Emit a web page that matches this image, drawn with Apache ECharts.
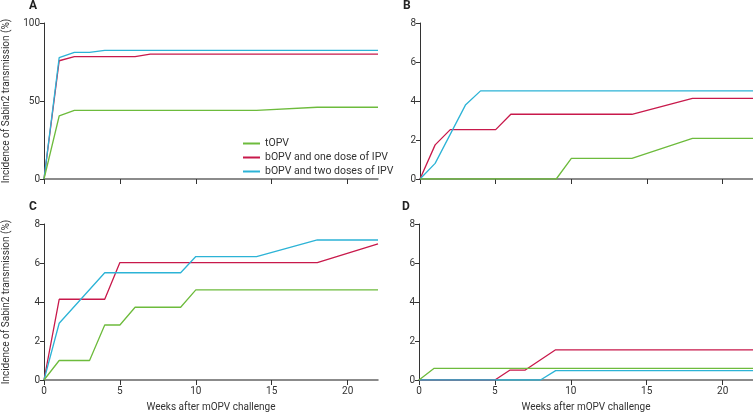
<!DOCTYPE html>
<html>
<head>
<meta charset="utf-8">
<script src="https://cdn.jsdelivr.net/npm/echarts@6/dist/echarts.min.js"></script>
<style>html,body{margin:0;padding:0;background:#fff}#c{width:753px;height:414px}</style>
</head>
<body>
<div id="c"></div>
<script>
// Data: [week, incidence %]
const seriesNames = ['tOPV', 'bOPV and one dose of IPV', 'bOPV and two doses of IPV'];
const panelLabels = ['A', 'B', 'C', 'D'];
const xTicks = [0, 5, 10, 15, 20];
const yTicksA = [0, 50, 100];
const yTicksOther = [0, 2, 4, 6, 8];

const A_tOPV = [[0,0],[1,40.4],[2,44],[14,44],[18,46],[22,46]];
const A_one  = [[0,0],[1,75.8],[2,78.4],[6,78.4],[7,80],[22,80]];
const A_two  = [[0,0],[1,77.8],[2,81.2],[3,81.2],[4,82.5],[22,82.5]];

const B_tOPV = [[0,0],[9,0],[10,1.06],[14,1.06],[18,2.08],[22,2.08]];
const B_one  = [[0,0],[1,1.75],[2,2.53],[5,2.53],[6,3.32],[14,3.32],[18,4.13],[22,4.13]];
const B_two  = [[0,0],[1,0.8],[3,3.79],[4,4.52],[22,4.52]];

const C_tOPV = [[0,0],[1,1.0],[3,1.0],[4,2.82],[5,2.82],[6,3.73],[9,3.73],[10,4.62],[22,4.62]];
const C_one  = [[0,0],[1,4.14],[4,4.14],[5,6.02],[18,6.02],[22,6.98]];
const C_two  = [[0,0],[1,2.91],[4,5.5],[9,5.5],[10,6.33],[14,6.33],[18,7.18],[22,7.18]];

const D_tOPV = [[0,0],[1,0.6],[22,0.6]];
const D_one  = [[0,0],[5,0],[6,0.51],[7,0.51],[9,1.55],[22,1.55]];
const D_two  = [[0,0],[8,0],[9,0.48],[22,0.48]];

const panels = [
  [A_tOPV, A_one, A_two],
  [B_tOPV, B_one, B_two],
  [C_tOPV, C_one, C_two],
  [D_tOPV, D_one, D_two]
];
const colors = ['#6dbb3c', '#c8194b', '#2cb3d6'];
const font = 'Roboto, "Liberation Sans", sans-serif';

const grids = [
  {left: 44, top: 23, width: 334, height: 156},
  {left: 420, top: 23, width: 334, height: 156},
  {left: 44, top: 224, width: 334, height: 156},
  {left: 419, top: 224, width: 334, height: 156}
];

const xAxes = grids.map((g, i) => ({
  gridIndex: i, type: 'value', min: 0, max: 22,
  name: i >= 2 ? 'Weeks after mOPV challenge' : '',
  nameLocation: 'middle', nameGap: 22,
  nameTextStyle: {fontFamily: font, fontSize: 10, color: '#333'},
  axisLine: {show: true, lineStyle: {color: '#666', width: 1.5}},
  axisTick: {show: true, length: 5, customValues: xTicks, lineStyle: {color: '#333', width: 1}},
  axisLabel: {show: i >= 2, customValues: xTicks, fontFamily: font, fontSize: 10, color: '#333', margin: 6},
  splitLine: {show: false}
}));

const yAxes = grids.map((g, i) => {
  const ticks = i === 0 ? yTicksA : yTicksOther;
  return {
    gridIndex: i, type: 'value', min: 0, max: ticks[ticks.length - 1],
    interval: ticks[1] - ticks[0],
    name: (i === 0 || i === 2) ? 'Incidence of Sabin2 transmission (%)' : '',
    nameLocation: 'middle', nameGap: 33, nameRotate: 90,
    nameTextStyle: {fontFamily: font, fontSize: 10, color: '#333'},
    axisLine: {show: true, lineStyle: {color: '#333', width: 1}},
    axisTick: {show: true, length: 4, lineStyle: {color: '#333'}},
    axisLabel: {fontFamily: font, fontSize: 10, color: '#333', margin: 4},
    splitLine: {show: false}
  };
});

const series = [];
panels.forEach((p, gi) => {
  p.forEach((d, si) => {
    series.push({
      name: seriesNames[si], type: 'line', xAxisIndex: gi, yAxisIndex: gi,
      data: d, showSymbol: false, symbol: 'none', z: si === 0 ? 3 : 2,
      lineStyle: {color: colors[si], width: 1.3},
      itemStyle: {color: colors[si]}
    });
  });
});

const labelPos = [[29, 0], [403, 0], [29, 201], [402, 201]];
const graphic = panelLabels.map((t, i) => ({
  type: 'text', left: labelPos[i][0], top: labelPos[i][1],
  style: {text: t, fontFamily: font, fontSize: 12, fontWeight: 'bold', fill: '#222'}
}));

const chart = echarts.init(document.getElementById('c'), null, {renderer: 'canvas'});
chart.setOption({
  animation: false,
  backgroundColor: '#fff',
  grid: grids,
  xAxis: xAxes,
  yAxis: yAxes,
  legend: {
    orient: 'vertical', left: 238, top: 133,
    itemWidth: 17, itemHeight: 2, itemGap: 3,
    icon: 'rect',
    data: seriesNames,
    textStyle: {fontFamily: font, fontSize: 10.5, color: '#333'}
  },
  graphic: graphic,
  series: series
});
</script>
</body>
</html>
